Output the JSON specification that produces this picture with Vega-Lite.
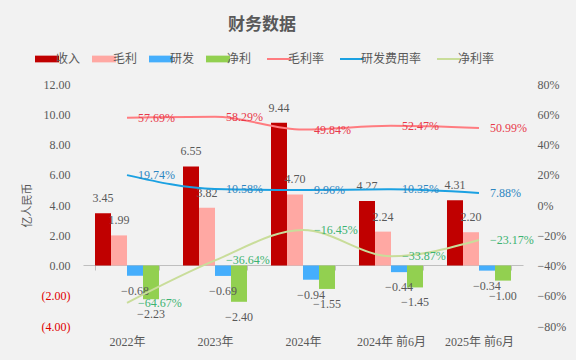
{
  "$schema": "https://vega.github.io/schema/vega-lite/v6.json",
  "width": 440,
  "height": 242,
  "autosize": {"type": "none"},
  "padding": {"left": 83, "top": 84, "right": 53, "bottom": 34},
  "background": "#f2f2f2",
  "config": {
    "view": {"stroke": null},
    "font": "Liberation Serif, Noto Sans CJK SC",
    "axis": {"grid": false, "labelFont": "Liberation Serif, Noto Sans CJK SC", "labelColor": "#595959", "labelFontSize": 12}
  },
  "title": {
    "text": "财务数据",
    "frame": "group",
    "anchor": "middle",
    "dx": -41,
    "offset": 19,
    "fontSize": 17,
    "fontWeight": "bold",
    "color": "#595959",
    "font": "Noto Sans CJK SC"
  },
  "datasets": {
    "bars": [
      {"cat": "2022年", "s": "收入", "v": 3.45},
      {"cat": "2022年", "s": "毛利", "v": 1.99},
      {"cat": "2022年", "s": "研发", "v": -0.68},
      {"cat": "2022年", "s": "净利", "v": -2.23},
      {"cat": "2023年", "s": "收入", "v": 6.55},
      {"cat": "2023年", "s": "毛利", "v": 3.82},
      {"cat": "2023年", "s": "研发", "v": -0.69},
      {"cat": "2023年", "s": "净利", "v": -2.40},
      {"cat": "2024年", "s": "收入", "v": 9.44},
      {"cat": "2024年", "s": "毛利", "v": 4.70},
      {"cat": "2024年", "s": "研发", "v": -0.94},
      {"cat": "2024年", "s": "净利", "v": -1.55},
      {"cat": "2024年 前6月", "s": "收入", "v": 4.27},
      {"cat": "2024年 前6月", "s": "毛利", "v": 2.24},
      {"cat": "2024年 前6月", "s": "研发", "v": -0.44},
      {"cat": "2024年 前6月", "s": "净利", "v": -1.45},
      {"cat": "2025年 前6月", "s": "收入", "v": 4.31},
      {"cat": "2025年 前6月", "s": "毛利", "v": 2.20},
      {"cat": "2025年 前6月", "s": "研发", "v": -0.34},
      {"cat": "2025年 前6月", "s": "净利", "v": -1.00}
    ],
    "rates": [
      {"cat": "2022年", "s": "毛利率", "r": 0.5769},
      {"cat": "2023年", "s": "毛利率", "r": 0.5829},
      {"cat": "2024年", "s": "毛利率", "r": 0.4984},
      {"cat": "2024年 前6月", "s": "毛利率", "r": 0.5247},
      {"cat": "2025年 前6月", "s": "毛利率", "r": 0.5099},
      {"cat": "2022年", "s": "研发费用率", "r": 0.1974},
      {"cat": "2023年", "s": "研发费用率", "r": 0.1058},
      {"cat": "2024年", "s": "研发费用率", "r": 0.0996},
      {"cat": "2024年 前6月", "s": "研发费用率", "r": 0.1035},
      {"cat": "2025年 前6月", "s": "研发费用率", "r": 0.0788},
      {"cat": "2022年", "s": "净利率", "r": -0.6467},
      {"cat": "2023年", "s": "净利率", "r": -0.3664},
      {"cat": "2024年", "s": "净利率", "r": -0.1645},
      {"cat": "2024年 前6月", "s": "净利率", "r": -0.3387},
      {"cat": "2025年 前6月", "s": "净利率", "r": -0.2317}
    ]
  },
  "layer": [
    {
      "data": {"name": "bars"},
      "encoding": {
        "x": {
          "field": "cat", "type": "nominal",
          "scale": {"domain": ["2022年", "2023年", "2024年", "2024年 前6月", "2025年 前6月"], "paddingInner": 0.2727, "paddingOuter": 0.1364},
          "axis": {"title": null, "offset": -61, "domainColor": "#bfbfbf", "tickColor": "#bfbfbf", "tickBand": "extent", "tickSize": 5, "labelPadding": 66, "labelAngle": 0}
        },
        "xOffset": {"field": "s", "type": "nominal", "scale": {"domain": ["收入", "毛利", "研发", "净利"]}},
        "y": {
          "field": "v", "type": "quantitative",
          "scale": {"domain": [-4, 12], "nice": false, "zero": false},
          "axis": {
            "title": "亿人民币",
            "values": [-4, -2, 0, 2, 4, 6, 8, 10, 12],
            "labelExpr": "datum.value < 0 ? '(' + format(-datum.value, '.2f') + ')' : format(datum.value, '.2f')",
            "labelColor": {"condition": {"test": "datum.value < 0", "value": "#e00000"}, "value": "#595959"},
            "domain": false, "ticks": false, "labelPadding": 13,
            "titleFont": "Noto Sans CJK SC", "titleFontSize": 11, "titleFontWeight": "normal", "titleColor": "#595959",
            "titleX": -56, "titleBaseline": "middle"
          }
        }
      },
      "layer": [
        {
          "mark": {"type": "bar"},
          "encoding": {
            "color": {
              "field": "s", "type": "nominal",
              "scale": {
                "domain": ["收入", "毛利", "研发", "净利", "毛利率", "研发费用率", "净利率"],
                "range": ["#c00000", "#ffa8a3", "#45aefc", "#92d050", "#ff7c80", "#1ba1e2", "#c9dd9a"]
              },
              "legend": {
                "title": null,
                "orient": "none",
                "legendX": -42,
                "legendY": -31,
                "direction": "horizontal",
                "columns": 7,
                "padding": 0,
                "columnPadding": 11,
                "symbolSize": 576,
                "labelOffset": 3,
                "labelFont": "Noto Sans CJK SC",
                "labelFontSize": 12,
                "labelColor": "#595959",
                "encode": {
                  "symbols": {
                    "update": {
                      "shape": {"signal": "indexof(['毛利率','研发费用率','净利率'], datum.value) >= 0 ? 'M-1,0H1' : 'M-1,-0.28H1V0.28H-1Z'"},
                      "fill": {"signal": "indexof(['毛利率','研发费用率','净利率'], datum.value) >= 0 ? 'transparent' : scale('color', datum.value)"},
                      "stroke": {"signal": "scale('color', datum.value)"},
                      "strokeWidth": {"signal": "indexof(['毛利率','研发费用率','净利率'], datum.value) >= 0 ? 2 : 0"},
                      "opacity": {"value": 1}
                    }
                  }
                }
              }
            }
          }
        },
        {
          "transform": [{"filter": "datum.v >= 0"}],
          "mark": {"type": "text", "baseline": "middle", "dy": -15, "fontSize": 12, "color": "#595959"},
          "encoding": {"text": {"field": "v", "type": "quantitative", "format": ".2f"}}
        },
        {
          "transform": [{"filter": "datum.v < 0"}],
          "mark": {"type": "text", "baseline": "middle", "dy": 15, "fontSize": 12, "color": "#595959"},
          "encoding": {"text": {"field": "v", "type": "quantitative", "format": ".2f"}}
        }
      ]
    },
    {
      "data": {"name": "rates"},
      "encoding": {
        "x": {"field": "cat", "type": "nominal"},
        "y": {
          "field": "r", "type": "quantitative",
          "scale": {"domain": [-0.8, 0.8], "nice": false, "zero": false},
          "axis": {"orient": "right", "title": null, "values": [-0.8, -0.6, -0.4, -0.2, 0, 0.2, 0.4, 0.6, 0.8], "format": ".0%", "domain": false, "ticks": false, "labelPadding": 14}
        }
      },
      "layer": [
        {
          "mark": {"type": "line", "interpolate": "monotone", "strokeWidth": 2},
          "encoding": {"color": {"field": "s", "type": "nominal"}}
        },
        {
          "mark": {"type": "text", "align": "left", "baseline": "middle", "dx": 11, "fontSize": 12},
          "encoding": {
            "text": {"field": "r", "type": "quantitative", "format": ".2%"},
            "color": {"condition": [{"test": "datum.s === '毛利率'", "value": "#e8394a"}, {"test": "datum.s === '研发费用率'", "value": "#2e86c1"}], "value": "#3cb371"}
          }
        }
      ]
    }
  ],
  "resolve": {"scale": {"y": "independent"}}
}
